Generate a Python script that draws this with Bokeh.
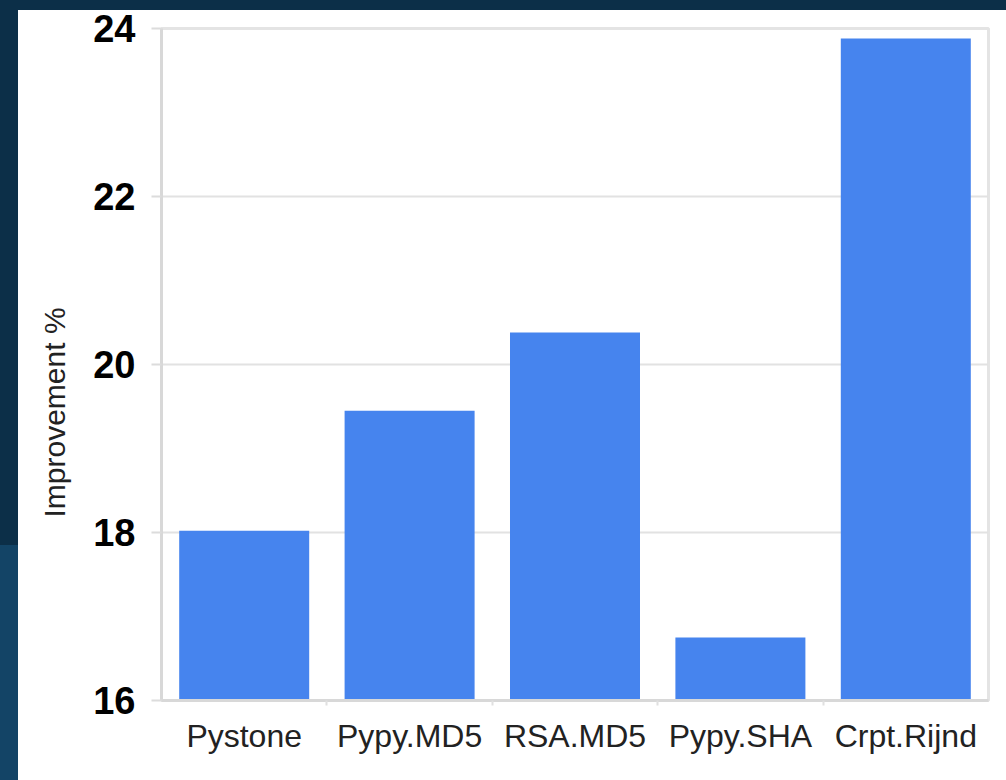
from bokeh.plotting import figure
from bokeh.models import FixedTicker, Range1d, ColumnDataSource, Title
from bokeh.embed import file_html
from bokeh.resources import INLINE

categories = ["Pystone", "Pypy.MD5", "RSA.MD5", "Pypy.SHA", "Crpt.Rijnd"]
improvement = [18.02, 19.45, 20.38, 16.75, 23.88]
y_ticks = [16, 18, 20, 22, 24]
y_title = "Improvement %"

xs = [i + 0.5 for i in range(len(categories))]
src = ColumnDataSource(dict(x=xs, top=improvement, cat=categories))

page_bg = ("linear-gradient(#0c2f48 10px, transparent 10px), "
           "linear-gradient(#0c2f48 545px, #134466 545px) 0 0 / 18px 100% no-repeat, #ffffff")

p = figure(width=1006, height=780, output_backend="svg", toolbar_location=None,
           x_range=Range1d(0, len(categories)), y_range=Range1d(16, 24),
           min_border_left=161, min_border_right=18, min_border_top=28, min_border_bottom=80,
           background_fill_color="white", border_fill_color=None,
           styles={"background": page_bg})
p.vbar(x="x", top="top", bottom=16, width=0.786, source=src,
       fill_color="#4684ee", line_color=None)

p.outline_line_color = "#e4e4e4"
p.outline_line_width = 3

p.xgrid.grid_line_color = None
p.ygrid.grid_line_color = "#e2e2e2"
p.ygrid.grid_line_width = 2
p.ygrid.ticker = FixedTicker(ticks=y_ticks)

p.yaxis.ticker = FixedTicker(ticks=y_ticks)
p.yaxis.axis_line_color = "#d8d8d8"
p.yaxis.axis_line_width = 3
p.yaxis.major_tick_line_color = "#dcdcdc"
p.yaxis.major_tick_line_width = 2
p.yaxis.major_tick_out = 10
p.yaxis.major_tick_in = 0
p.yaxis.minor_tick_line_color = None
p.yaxis.major_label_standoff = 16
p.yaxis.major_label_text_font = "Liberation Sans"
p.yaxis.major_label_text_font_style = "bold"
p.yaxis.major_label_text_font_size = "38px"
p.yaxis.major_label_text_color = "#000000"

p.add_layout(Title(text=y_title, align="left", offset=183, vertical_align="bottom", standoff=40,
                   text_font="Liberation Sans", text_font_style="normal",
                   text_font_size="30px", text_color="#222222"), "left")

p.xaxis.ticker = FixedTicker(ticks=xs, minor_ticks=list(range(1, len(categories))))
p.xaxis.major_label_overrides = {x: c for x, c in zip(xs, categories)}
p.xaxis.axis_line_color = "#d8d8d8"
p.xaxis.axis_line_width = 3
p.xaxis.major_tick_line_color = None
p.xaxis.major_tick_out = 0
p.xaxis.major_tick_in = 0
p.xaxis.minor_tick_line_color = "#e0e0e0"
p.xaxis.minor_tick_line_width = 2
p.xaxis.minor_tick_out = 5
p.xaxis.minor_tick_in = 0
p.xaxis.major_label_standoff = 12
p.xaxis.major_label_text_font = "Liberation Sans"
p.xaxis.major_label_text_font_size = "32px"
p.xaxis.major_label_text_color = "#222222"

open("out.html", "w").write(file_html(p, INLINE))
